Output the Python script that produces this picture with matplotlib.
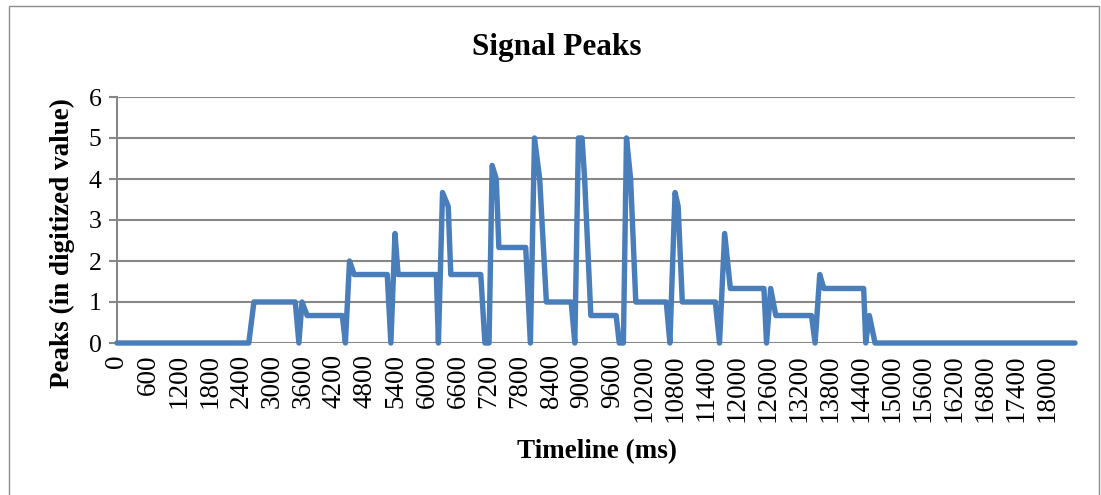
import matplotlib
matplotlib.use("Agg")
import matplotlib.pyplot as plt
from matplotlib.patches import Rectangle

times_ms = [0, 2550, 2650, 3450, 3520, 3580, 3680, 4360, 4420, 4500,
            4590, 5230, 5300, 5380, 5440, 6180, 6220, 6300, 6410, 6460,
            7040, 7120, 7200, 7260, 7340, 7390, 7910, 8000, 8080, 8180,
            8310, 8790, 8860, 8930, 9000, 9050, 9170, 9660, 9720, 9800,
            9860, 9940, 10040, 10630, 10700, 10800, 10860, 10940, 11580, 11660,
            11760, 11870, 12520, 12570, 12650, 12750, 13440, 13510, 13600, 13680,
            14450, 14490, 14560, 14670, 18540]
peaks = [0, 0, 1, 1, 0, 1, 0.67, 0.67, 0, 2,
         1.67, 1.67, 0, 2.67, 1.67, 1.67, 0, 3.67, 3.33, 1.67,
         1.67, 0, 0, 4.33, 4.0, 2.33, 2.33, 0, 5, 4.0,
         1, 1, 0, 5, 5, 4.0, 0.67, 0.67, 0, 0,
         5, 4.0, 1, 1, 0, 3.67, 3.33, 1, 1, 0,
         2.67, 1.33, 1.33, 0, 1.33, 0.67, 0.67, 0, 1.67, 1.33,
         1.33, 0, 0.67, 0, 0]

x_ticks = list(range(0, 18001, 600))
x_tick_labels = [str(t) for t in x_ticks]
y_ticks = [0, 1, 2, 3, 4, 5, 6]

title = "Signal Peaks"
x_label = "Timeline (ms)"
y_label = "Peaks (in digitized value)"

plt.rcParams["font.family"] = ["Liberation Serif", "DejaVu Serif"]

W, H = 1101, 495
fig = plt.figure(figsize=(W / 100, H / 100), dpi=100)
fig.patch.set_facecolor("white")

# plot area in pixel coordinates
left, right, top, bottom = 117, 1075, 97, 343
ax = fig.add_axes([left / W, 1 - bottom / H, (right - left) / W, (bottom - top) / H])

grid_col = "#878787"
line_col = "#4a7ebb"

ax.plot(times_ms, peaks, color=line_col, lw=3.9, solid_joinstyle="round",
        solid_capstyle="round", zorder=3, clip_on=False)

ax.set_xlim(0, times_ms[-1])
ax.set_ylim(0, 6)
ax.set_yticks(y_ticks)
ax.set_xticks(x_ticks)
ax.set_xticklabels(x_tick_labels, rotation=90, fontsize=19.5)
ax.tick_params(axis="x", length=0, pad=8)
ax.tick_params(axis="y", length=6, width=1.5, color=grid_col, direction="out",
               labelsize=18.5, pad=5)

ax.grid(axis="y", color=grid_col, lw=1.5, zorder=1)
ax.set_axisbelow(True)
for side in ("top", "right", "bottom"):
    ax.spines[side].set_visible(False)
ax.spines["left"].set_color(grid_col)
ax.spines["left"].set_linewidth(1.5)

fig.text(557 / W, 1 - 47 / H, title, ha="center", va="center",
         fontsize=22.5, fontweight="bold")
fig.text(597 / W, 1 - 452 / H, x_label, ha="center", va="center",
         fontsize=19.5, fontweight="bold")
fig.text(62 / W, 1 - 243 / H, y_label, ha="center", va="center",
         rotation=90, fontsize=19.5, fontweight="bold")

# chart frame
fig.patches.append(Rectangle((9 / W, -0.05), (1099 - 9) / W, 1.05 - 6 / H,
                             transform=fig.transFigure, fill=False,
                             edgecolor="#8c8c8c", lw=1.0))

fig.savefig("out.png", dpi=100)
